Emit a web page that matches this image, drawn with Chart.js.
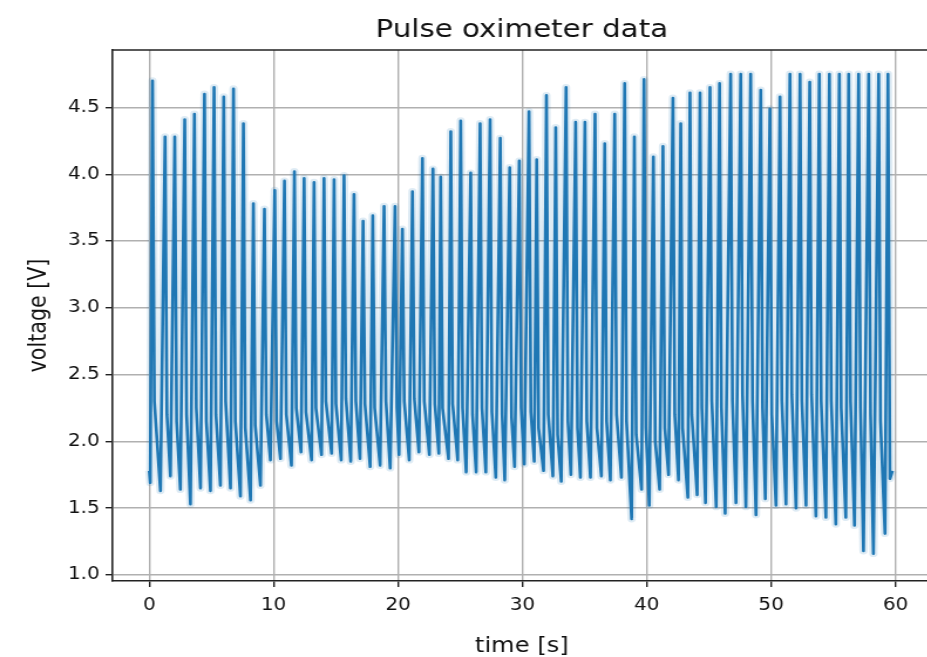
<!DOCTYPE html>
<html>
<head>
<meta charset="utf-8">
<script src="https://cdn.jsdelivr.net/npm/chart.js@4.4.1/dist/chart.umd.min.js"></script>
<style>
  html, body { margin: 0; padding: 0; background: #fff; overflow: hidden; }
</style>
</head>
<body>
<!-- the reference image is stretched sideways, so the canvas is too -->
<canvas id="chart" width="794" height="657" style="width:930.6px;height:657px"></canvas>
<script>
// pulse oximeter trace
const titleText = "Pulse oximeter data";
const xLabel = "time [s]";
const yLabel = "voltage [V]";

const xTicks = [0, 10, 20, 30, 40, 50, 60];
const yTicks = [1.0, 1.5, 2.0, 2.5, 3.0, 3.5, 4.0, 4.5];

const startT = 0.0, startV = 1.78;
const endT = 59.75, endV = 1.78;

// low point just before each upstroke
const troughT = [0.08,0.9,1.7,2.5,3.31,4.12,4.92,5.72,6.53,7.33,
  8.14,8.94,9.74,10.55,11.43,12.2,13.05,13.85,14.66,15.43,
  16.2,16.94,17.76,18.56,19.37,20.08,20.9,21.68,22.52,23.28,
  24.06,24.8,25.48,26.28,27.06,27.86,28.58,29.37,30.15,30.95,
  31.7,32.45,33.12,33.9,34.66,35.47,36.35,37.07,37.96,38.78,
  39.58,40.2,41.03,41.75,42.55,43.3,44.05,44.72,45.58,46.3,
  47.17,47.97,48.78,49.53,50.39,51.19,52.0,52.8,53.6,54.4,
  55.2,56.0,56.7,57.42,58.22,59.15];
const troughV = [1.69,1.63,1.74,1.64,1.53,1.65,1.63,1.67,1.65,1.59,
  1.56,1.67,1.86,1.87,1.82,1.92,1.86,1.90,1.91,1.86,
  1.85,1.87,1.81,1.82,1.80,1.90,1.86,1.92,1.90,1.91,
  1.87,1.86,1.77,1.77,1.77,1.73,1.71,1.81,1.83,1.85,
  1.78,1.74,1.70,1.75,1.73,1.73,1.74,1.71,1.73,1.42,
  1.64,1.52,1.64,1.75,1.71,1.58,1.60,1.54,1.51,1.46,
  1.54,1.51,1.45,1.57,1.52,1.53,1.50,1.52,1.44,1.43,
  1.38,1.43,1.37,1.18,1.16,1.31];

// systolic peaks
const peakT = [0.26,1.27,2.05,2.85,3.63,4.44,5.21,5.99,6.77,7.57,
  8.37,9.26,10.09,10.87,11.67,12.45,13.25,14.05,14.86,15.66,
  16.46,17.19,17.97,18.88,19.76,20.35,21.16,21.96,22.81,23.43,
  24.24,25.04,25.84,26.6,27.4,28.22,28.98,29.75,30.53,31.15,
  31.93,32.68,33.51,34.28,35.03,35.84,36.62,37.42,38.22,39.0,
  39.78,40.53,41.3,42.1,42.73,43.47,44.28,45.08,45.85,46.74,
  47.55,48.35,49.16,49.9,50.71,51.51,52.32,53.1,53.87,54.68,
  55.48,56.23,57.03,57.84,58.64,59.39];
const peakV = [4.70,4.28,4.28,4.41,4.45,4.60,4.65,4.58,4.64,4.38,
  3.78,3.74,3.88,3.95,4.02,3.97,3.94,3.97,3.96,3.99,
  3.85,3.65,3.69,3.76,3.76,3.59,3.87,4.12,4.04,3.98,
  4.32,4.40,4.01,4.38,4.41,4.27,4.05,4.10,4.47,4.11,
  4.59,4.35,4.65,4.39,4.39,4.45,4.23,4.45,4.68,4.28,
  4.71,4.13,4.21,4.57,4.38,4.61,4.61,4.65,4.68,4.75,
  4.75,4.75,4.63,4.49,4.58,4.75,4.75,4.69,4.75,4.75,
  4.75,4.75,4.75,4.75,4.75,4.75];

// level the trace drops back to right after each peak
const notchT = [0.41,1.42,2.2,3.0,3.78,4.59,5.36,6.14,6.92,7.72,
  8.52,9.41,10.24,11.02,11.82,12.6,13.4,14.2,15.01,15.81,
  16.61,17.34,18.12,19.03,19.91,20.5,21.31,22.11,22.96,23.58,
  24.39,25.19,25.99,26.75,27.55,28.37,29.13,29.9,30.68,31.3,
  32.08,32.83,33.66,34.43,35.18,35.99,36.77,37.57,38.37,39.15,
  39.93,40.68,41.45,42.25,42.88,43.62,44.43,45.23,46.0,46.89,
  47.7,48.5,49.31,50.05,50.86,51.66,52.47,53.25,54.02,54.83,
  55.63,56.38,57.18,57.99,58.79,59.55];
const notchV = [2.3,2.2,2.15,2.2,2.25,2.15,2.2,2.3,2.15,2.1,
  2.12,2.2,2.15,2.2,2.25,2.22,2.25,2.3,2.28,2.32,
  2.3,2.28,2.25,2.3,2.25,2.3,2.32,2.3,2.28,2.25,
  2.28,2.25,2.2,2.25,2.22,2.2,2.18,2.25,2.22,2.1,
  2.2,2.05,2.15,2.1,2.15,2.1,2.15,2.2,2.15,2.05,
  2.1,2.0,2.1,2.2,2.1,2.2,2.25,2.3,2.25,2.3,
  2.35,2.3,2.25,2.2,2.3,2.35,2.3,2.35,2.3,2.3,
  2.25,2.3,2.25,2.2,2.15,1.72];

const points = [{x: startT, y: startV}];
for (let i = 0; i < peakT.length; i++) {
    points.push({x: troughT[i], y: troughV[i]});
    points.push({x: peakT[i], y: peakV[i]});
    points.push({x: notchT[i], y: notchV[i]});
}
points.push({x: endT, y: endV});

Chart.defaults.font.family = "'DejaVu Sans', sans-serif";
Chart.defaults.color = '#111';

// top spine + title centred over the axes, like matplotlib
const frame = {
    id: 'frame',
    afterDraw(chart) {
        const {ctx, chartArea: a} = chart;
        ctx.save();
        ctx.strokeStyle = '#222';
        ctx.lineWidth = 1.6;
        ctx.beginPath();
        ctx.moveTo(a.left, a.top);
        ctx.lineTo(a.right, a.top);
        ctx.stroke();
        ctx.fillStyle = '#111';
        ctx.font = "25px 'DejaVu Sans'";
        ctx.textAlign = 'center';
        ctx.textBaseline = 'alphabetic';
        ctx.fillText(titleText, (a.left + a.right) / 2, 37);
        ctx.restore();
    }
};

const ctx = document.getElementById("chart").getContext("2d");
const chart = new Chart(ctx, {
    type: 'line',
    data: {
        datasets: [{
            data: points,
            borderColor: '#1f77b4',
            borderWidth: 2.6,
            borderJoinStyle: 'round',
            pointRadius: 0,
            tension: 0,
            fill: false,
            order: 1
        }, {
            // soft blur around the trace, as in the picture
            data: points,
            borderColor: 'rgba(31, 119, 180, 0.15)',
            borderWidth: 7,
            borderJoinStyle: 'round',
            pointRadius: 0,
            tension: 0,
            fill: false,
            order: 2
        }]
    },
    options: {
        responsive: false,
        animation: false,
        events: [],
        layout: { autoPadding: false, padding: { top: 50, left: 0, right: 0, bottom: 0 } },
        plugins: { legend: { display: false }, tooltip: { enabled: false } },
        scales: {
            x: {
                type: 'linear',
                min: -2.95,
                max: 62.85,
                afterBuildTicks: axis => { axis.ticks = xTicks.map(v => ({value: v})); },
                afterFit: s => { s.height = 76; },
                ticks: { autoSkip: false, maxRotation: 0, padding: 8, font: { size: 17 },
                         callback: v => String(v) },
                grid: { color: '#b0b0b0', lineWidth: 1.4, tickLength: 6, tickColor: '#222', tickWidth: 1.4 },
                border: { color: '#222', width: 1.6 },
                title: { display: true, text: xLabel, font: { size: 20.6, lineHeight: 1.0 }, padding: { top: 0, bottom: 0 } }
            },
            y: {
                min: 0.955,
                max: 4.93,
                afterBuildTicks: axis => { axis.ticks = yTicks.map(v => ({value: v})); },
                afterFit: s => { s.width = 96; },
                ticks: { autoSkip: false, padding: 5, font: { size: 17 },
                         callback: v => v.toFixed(1) },
                grid: { color: '#b0b0b0', lineWidth: 1.4, tickLength: 6, tickColor: '#222', tickWidth: 1.4 },
                border: { color: '#222', width: 1.6 },
                title: { display: true, text: yLabel, font: { size: 20.6 }, padding: { top: 21, bottom: 0 } }
            }
        }
    },
    plugins: [frame]
});
</script>
</body>
</html>
